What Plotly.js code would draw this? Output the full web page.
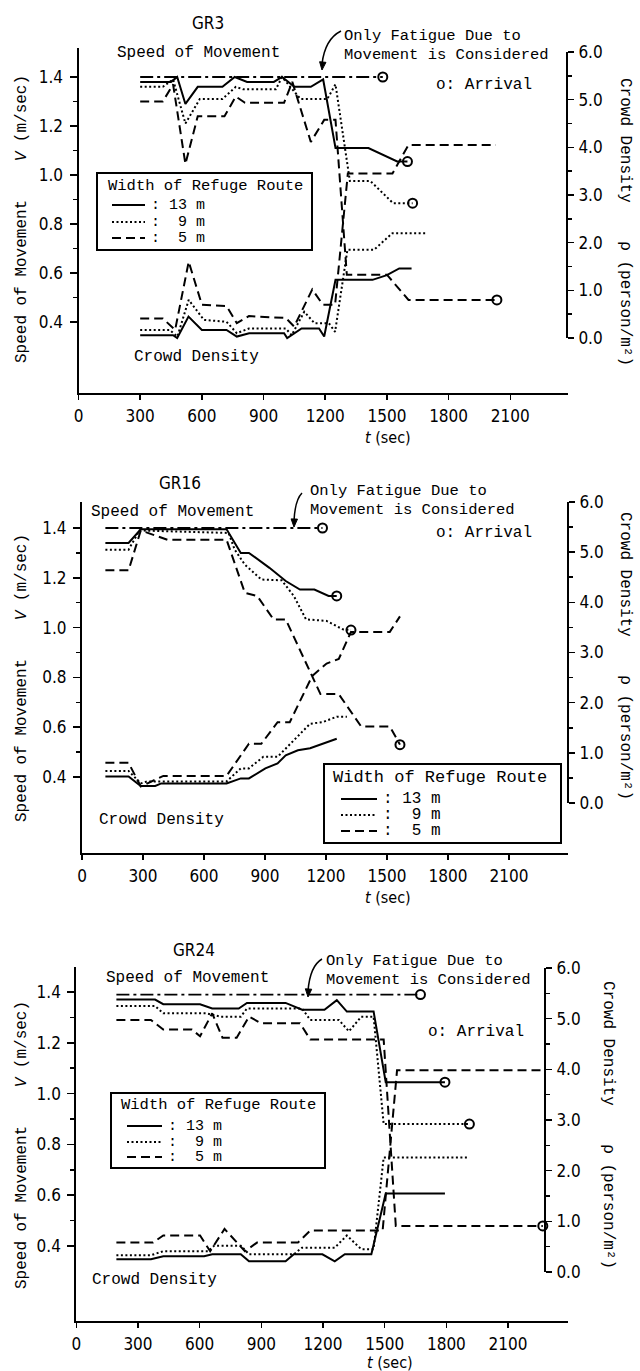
<!DOCTYPE html>
<html><head><meta charset="utf-8">
<script src="https://cdn.plot.ly/plotly-3.0.1.min.js"></script>
<style>html,body{margin:0;padding:0;background:#fff}</style>
</head><body><div id="chart" style="width:640px;height:1371px"></div>
<script>
// ---------------- DATA ----------------
const PANEL_TITLES = ['GR3', 'GR16', 'GR24'];
const X_TICKS = [0, 300, 600, 900, 1200, 1500, 1800, 2100];
const V_TICKS = [0.4, 0.6, 0.8, 1.0, 1.2, 1.4];
const V_TICK_TEXT = ['0.4', '0.6', '0.8', '1.0', '1.2', '1.4'];
const V_MINOR = [0.5, 0.7, 0.9, 1.1, 1.3];
const R_TICKS = [0, 1, 2, 3, 4, 5, 6];
const R_TICK_TEXT = ['0.0', '1.0', '2.0', '3.0', '4.0', '5.0', '6.0'];
const R_MINOR = [0.5, 1.5, 2.5, 3.5, 4.5, 5.5];
const LEGEND_TITLE = 'Width of Refuge Route';
const WIDTH_LABELS = [': 13 m', ':  9 m', ':  5 m'];

// GR3
const GR3_FATIGUE_T = [300, 1480];
const GR3_FATIGUE_V = [1.40, 1.40];
const GR3_V13_T = [300, 450, 480, 520, 580, 700, 760, 820, 950, 990, 1050, 1130, 1190, 1250, 1410, 1550, 1600];
const GR3_V13 = [1.38, 1.38, 1.40, 1.29, 1.36, 1.36, 1.40, 1.38, 1.38, 1.40, 1.36, 1.36, 1.39, 1.11, 1.11, 1.055, 1.055];
const GR3_V9_T = [300, 410, 460, 520, 590, 700, 765, 800, 960, 990, 1080, 1210, 1250, 1320, 1420, 1530, 1625];
const GR3_V9 = [1.36, 1.36, 1.39, 1.21, 1.31, 1.31, 1.36, 1.35, 1.35, 1.40, 1.31, 1.31, 1.37, 0.975, 0.975, 0.885, 0.885];
const GR3_V5_T = [300, 410, 460, 520, 580, 710, 765, 810, 1000, 1040, 1130, 1195, 1250, 1305, 1500, 1605, 2035];
const GR3_V5 = [1.30, 1.30, 1.37, 1.045, 1.24, 1.24, 1.32, 1.295, 1.295, 1.38, 1.135, 1.225, 1.225, 0.593, 0.593, 0.49, 0.49];
const GR3_R13_T = [300, 460, 480, 535, 600, 720, 770, 830, 1000, 1015, 1085, 1170, 1195, 1250, 1430, 1500, 1560, 1620];
const GR3_R13 = [0.06, 0.06, 0.0, 0.45, 0.17, 0.17, 0.03, 0.10, 0.10, 0.0, 0.20, 0.20, 0.03, 1.22, 1.22, 1.32, 1.46, 1.46];
const GR3_R9_T = [300, 443, 481, 536, 610, 720, 770, 829, 1008, 1037, 1098, 1148, 1218, 1248, 1308, 1437, 1527, 1687];
const GR3_R9 = [0.17, 0.17, 0.03, 0.80, 0.38, 0.34, 0.10, 0.20, 0.20, 0.06, 0.55, 0.31, 0.31, 0.13, 1.85, 1.85, 2.20, 2.20];
const GR3_R5_T = [300, 410, 470, 536, 600, 720, 770, 829, 1008, 1049, 1137, 1188, 1248, 1310, 1527, 1605, 2030];
const GR3_R5 = [0.41, 0.41, 0.17, 1.60, 0.70, 0.67, 0.31, 0.46, 0.42, 0.24, 1.02, 0.70, 0.70, 3.45, 3.45, 4.05, 4.05];

// GR16
const GR16_FATIGUE_T = [115, 1183];
const GR16_FATIGUE_V = [1.40, 1.40];
const GR16_V13_T = [115, 229, 289, 711, 781, 821, 922, 1002, 1072, 1143, 1213, 1253];
const GR16_V13 = [1.34, 1.34, 1.395, 1.395, 1.30, 1.30, 1.24, 1.187, 1.153, 1.153, 1.127, 1.127];
const GR16_V9_T = [115, 229, 283, 721, 751, 801, 882, 982, 1042, 1102, 1203, 1283, 1323];
const GR16_V9 = [1.313, 1.313, 1.39, 1.38, 1.313, 1.253, 1.193, 1.19, 1.127, 1.033, 1.027, 0.993, 0.99];
const GR16_V5_T = [115, 229, 289, 420, 711, 801, 862, 942, 1002, 1173, 1263, 1373, 1514, 1564];
const GR16_V5 = [1.23, 1.23, 1.39, 1.353, 1.353, 1.14, 1.127, 1.033, 1.033, 0.733, 0.733, 0.603, 0.603, 0.53];
const GR16_R13_T = [115, 229, 289, 360, 390, 711, 781, 821, 902, 962, 1002, 1062, 1122, 1183, 1253];
const GR16_R13 = [0.53, 0.53, 0.34, 0.34, 0.39, 0.39, 0.49, 0.49, 0.69, 0.79, 0.95, 1.05, 1.09, 1.18, 1.28];
const GR16_R9_T = [115, 229, 289, 319, 711, 781, 821, 892, 962, 1042, 1122, 1183, 1253, 1303];
const GR16_R9 = [0.64, 0.64, 0.39, 0.43, 0.43, 0.69, 0.69, 0.92, 0.92, 1.25, 1.58, 1.61, 1.72, 1.72];
const GR16_R5_T = [115, 229, 289, 400, 711, 821, 882, 962, 1022, 1132, 1203, 1263, 1323, 1514, 1564];
const GR16_R5 = [0.80, 0.80, 0.33, 0.54, 0.54, 1.18, 1.18, 1.61, 1.61, 2.53, 2.78, 2.87, 3.41, 3.41, 3.72];

// GR24
const GR24_FATIGUE_T = [195, 1674];
const GR24_FATIGUE_V = [1.39, 1.39];
const GR24_V13_T = [195, 383, 423, 602, 661, 790, 830, 1018, 1098, 1207, 1267, 1316, 1446, 1505, 1793];
const GR24_V13 = [1.37, 1.37, 1.352, 1.352, 1.335, 1.335, 1.357, 1.357, 1.33, 1.33, 1.368, 1.323, 1.323, 1.045, 1.045];
const GR24_V9_T = [195, 383, 423, 631, 701, 800, 830, 1098, 1138, 1277, 1326, 1386, 1446, 1495, 1912];
const GR24_V9 = [1.345, 1.345, 1.316, 1.316, 1.303, 1.303, 1.335, 1.335, 1.29, 1.29, 1.245, 1.303, 1.303, 0.88, 0.88];
const GR24_V5_T = [195, 363, 423, 562, 602, 661, 711, 780, 840, 899, 1088, 1138, 1495, 1554, 2269];
const GR24_V5 = [1.29, 1.29, 1.252, 1.252, 1.226, 1.316, 1.22, 1.22, 1.303, 1.277, 1.277, 1.213, 1.213, 0.479, 0.479];
const GR24_R13_T = [195, 363, 423, 622, 661, 800, 840, 1018, 1058, 1197, 1257, 1306, 1435, 1505, 1793];
const GR24_R13 = [0.25, 0.25, 0.31, 0.31, 0.35, 0.35, 0.21, 0.21, 0.35, 0.35, 0.21, 0.35, 0.35, 1.55, 1.55];
const GR24_R9_T = [195, 363, 423, 641, 671, 800, 840, 1058, 1098, 1257, 1316, 1386, 1446, 1495, 1912];
const GR24_R9 = [0.33, 0.33, 0.41, 0.41, 0.52, 0.52, 0.35, 0.35, 0.48, 0.48, 0.72, 0.45, 0.45, 2.26, 2.26];
const GR24_R5_T = [195, 373, 423, 602, 651, 721, 820, 879, 1078, 1138, 1490, 1560, 2279];
const GR24_R5 = [0.58, 0.58, 0.72, 0.72, 0.41, 0.85, 0.41, 0.58, 0.58, 0.82, 0.82, 3.98, 3.98];

// ---------------- TABLE built from the arrays ----------------
const SERIES = [
  {fat: [GR3_FATIGUE_T, GR3_FATIGUE_V], v: [[GR3_V13_T, GR3_V13], [GR3_V9_T, GR3_V9], [GR3_V5_T, GR3_V5]],
   r: [[GR3_R13_T, GR3_R13], [GR3_R9_T, GR3_R9], [GR3_R5_T, GR3_R5]]},
  {fat: [GR16_FATIGUE_T, GR16_FATIGUE_V], v: [[GR16_V13_T, GR16_V13], [GR16_V9_T, GR16_V9], [GR16_V5_T, GR16_V5]],
   r: [[GR16_R13_T, GR16_R13], [GR16_R9_T, GR16_R9], [GR16_R5_T, GR16_R5]]},
  {fat: [GR24_FATIGUE_T, GR24_FATIGUE_V], v: [[GR24_V13_T, GR24_V13], [GR24_V9_T, GR24_V9], [GR24_V5_T, GR24_V5]],
   r: [[GR24_R13_T, GR24_R13], [GR24_R9_T, GR24_R9], [GR24_R5_T, GR24_R5]]}
];

// ---------------- GEOMETRY (pixel layout of each panel) ----------------
const W = 640, H = 1371;
const PX = p => p / W, PY = p => 1 - p / H;
const GEO = [
  {xl: 78.5, xr: 568, t0: 78.5, ts: 0.2056, yb: 393, yt: 48, v14: 77, vs: 245, r0: 338, rs: 47.67, rx: 567,
   title: [208, 23], speed: [198, 53], fat: [342, 37], arrow: [[341, 31], [325, 39], [322, 70]], arrival: [484, 85],
   leg: {box: [97, 173, 312, 250], tx: 106, ty: 186, lx0: 112, lx1: 145, cx: 149, rows: [205, 222, 238], fs: 15, ts: 15.5},
   crowd: [196, 357], tsec: [388, 437], ltitle: [22, 219], rtitle: [625, 222]},
  {xl: 82, xr: 568, t0: 82, ts: 0.2033, yb: 853, yt: 502, v14: 528, vs: 249, r0: 803, rs: 50.17, rx: 568,
   title: [180, 483], speed: [172, 512], fat: [308, 492], arrow: [[302, 493], [295, 500], [294, 527]], arrival: [484, 533],
   leg: {box: [324, 764, 561, 843], tx: 331, ty: 777, lx0: 341, lx1: 377, cx: 381, rows: [799, 815, 831], fs: 16, ts: 17},
   crowd: [161, 820], tsec: [388, 897], ltitle: [22, 678], rtitle: [625, 656]},
  {xl: 76.3, xr: 568, t0: 76.3, ts: 0.2056, yb: 1321, yt: 967, v14: 992, vs: 254, r0: 1272, rs: 50.67, rx: 545,
   title: [194, 950], speed: [187, 978], fat: [324, 962], arrow: [[322, 959], [310, 966], [308, 997]], arrival: [476, 1032],
   leg: {box: [111, 1093, 325, 1168], tx: 119, ty: 1105, lx0: 127, lx1: 162, cx: 166, rows: [1126, 1142, 1157], fs: 15, ts: 15.5},
   crowd: [154, 1280], tsec: [390, 1362], ltitle: [22, 1145], rtitle: [608, 1125]}
];

const MONO = '"Liberation Mono", "DejaVu Sans Mono", monospace';
const NARROW = '"Liberation Sans Narrow", "DejaVu Sans Condensed", "Liberation Sans", sans-serif';
const BLACK = '#000';

const LINE_STYLES = [
  {color: BLACK, width: 2, dash: 'solid'},
  {color: BLACK, width: 2, dash: '2px,2.5px'},
  {color: BLACK, width: 2, dash: '9px,5px'}
];
const FAT_STYLE = {color: BLACK, width: 1.8, dash: '13px,4px,3px,4px'};

const traces = [];
const layout = {
  width: W, height: H, margin: {l: 0, r: 0, t: 0, b: 0},
  paper_bgcolor: '#fff', plot_bgcolor: 'rgba(0,0,0,0)',
  showlegend: false, annotations: [], shapes: [],
  font: {family: NARROW, color: BLACK, size: 16}
};

GEO.forEach((g, i) => {
  const xa = i === 0 ? 'x' : 'x' + (i + 1);
  const yv = i === 0 ? 'y' : 'y' + (2 * i + 1);
  const yr = 'y' + (2 * i + 2);
  const xKey = i === 0 ? 'xaxis' : 'xaxis' + (i + 1);
  const yvKey = i === 0 ? 'yaxis' : 'yaxis' + (2 * i + 1);
  const yrKey = 'yaxis' + (2 * i + 2);
  const S = SERIES[i];

  layout[xKey] = {
    domain: [PX(g.xl), PX(g.xr)], anchor: yv,
    range: [(g.xl - g.t0) / g.ts, (g.xr - g.t0) / g.ts],
    showgrid: false, zeroline: false, showline: true, linewidth: 2, linecolor: BLACK,
    ticks: 'outside', ticklen: 5, tickwidth: 1.5, tickcolor: BLACK,
    tickmode: 'array', tickvals: X_TICKS, ticktext: X_TICKS.map(String),
    tickfont: {family: NARROW, size: 17, color: BLACK}, ticklabelstandoff: 2
  };
  layout[yvKey] = {
    domain: [PY(g.yb), PY(g.yt)], anchor: xa,
    range: [1.4 - (g.yb - g.v14) / g.vs, 1.4 + (g.v14 - g.yt) / g.vs],
    showgrid: false, zeroline: false, showline: true, linewidth: 2, linecolor: BLACK,
    ticks: 'outside', ticklen: 7, tickwidth: 1.5, tickcolor: BLACK,
    tickmode: 'array', tickvals: V_TICKS, ticktext: V_TICK_TEXT,
    minor: {tickvals: V_MINOR, ticks: 'outside', ticklen: 4, tickwidth: 1.5, tickcolor: BLACK},
    tickfont: {family: NARROW, size: 17, color: BLACK}, ticklabelstandoff: 3
  };
  layout[yrKey] = {
    overlaying: yv, anchor: 'free', position: PX(g.rx), side: 'right',
    range: [-(g.yb - g.r0) / g.rs, (g.r0 - g.yt) / g.rs],
    showgrid: false, zeroline: false, showline: false,
    ticks: 'outside', ticklen: 6, tickwidth: 1.5, tickcolor: BLACK,
    tickmode: 'array', tickvals: R_TICKS, ticktext: R_TICK_TEXT,
    minor: {tickvals: R_MINOR, ticks: 'outside', ticklen: 4, tickwidth: 1.5, tickcolor: BLACK},
    tickfont: {family: NARROW, size: 17, color: BLACK}, ticklabelstandoff: 1
  };
  layout.shapes.push({type: 'line', xref: 'paper', yref: yr, x0: PX(g.rx), x1: PX(g.rx), y0: 0, y1: 6,
    line: {color: BLACK, width: 2}});

  traces.push({type: 'scatter', mode: 'lines', x: S.fat[0], y: S.fat[1], xaxis: xa, yaxis: yv,
    line: FAT_STYLE, hoverinfo: 'skip'});
  S.v.forEach((s, k) => {
    traces.push({type: 'scatter', mode: 'lines', x: s[0], y: s[1], xaxis: xa, yaxis: yv, line: LINE_STYLES[k]});
  });
  S.r.forEach((s, k) => {
    traces.push({type: 'scatter', mode: 'lines', x: s[0], y: s[1], xaxis: xa, yaxis: yr, line: LINE_STYLES[k]});
  });
  const ax = [S.fat[0][S.fat[0].length - 1]].concat(S.v.map(s => s[0][s[0].length - 1]));
  const ay = [S.fat[1][S.fat[1].length - 1]].concat(S.v.map(s => s[1][s[1].length - 1]));
  traces.push({type: 'scatter', mode: 'markers', x: ax, y: ay, xaxis: xa, yaxis: yv,
    marker: {symbol: 'circle-open', size: 9, color: BLACK, line: {width: 2, color: BLACK}},
    cliponaxis: false});

  const A = layout.annotations;
  const ann = (text, x, y, o) => A.push(Object.assign({text: text, xref: 'paper', yref: 'paper',
    x: PX(x), y: PY(y), showarrow: false, xanchor: 'center', yanchor: 'middle',
    font: {family: MONO, size: 16, color: BLACK}}, o || {}));

  const L = g.leg;
  layout.shapes.push({type: 'rect', xref: 'paper', yref: 'paper', x0: PX(L.box[0]), x1: PX(L.box[2]),
    y0: PY(L.box[3]), y1: PY(L.box[1]), line: {color: BLACK, width: 2}, fillcolor: '#fff', layer: 'above'});
  ann(LEGEND_TITLE, L.tx, L.ty, {xanchor: 'left', font: {family: MONO, size: L.ts, color: BLACK}});
  L.rows.forEach((ry, k) => {
    layout.shapes.push({type: 'line', xref: 'paper', yref: 'paper', x0: PX(L.lx0), x1: PX(L.lx1),
      y0: PY(ry), y1: PY(ry), line: LINE_STYLES[k], layer: 'above'});
    ann(WIDTH_LABELS[k], L.cx, ry, {xanchor: 'left', font: {family: MONO, size: L.fs, color: BLACK}});
  });

  const [p0, pc, p1] = g.arrow;
  layout.shapes.push({type: 'path', xref: 'paper', yref: 'paper',
    path: `M ${PX(p0[0])} ${PY(p0[1])} Q ${PX(pc[0])} ${PY(pc[1])} ${PX(p1[0])} ${PY(p1[1] - 6)}`,
    line: {color: BLACK, width: 1.5}});
  {
    const dx = p1[0] - pc[0], dy = p1[1] - pc[1], n = Math.hypot(dx, dy);
    const ux = dx / n, uy = dy / n, nx = -uy, ny = ux;
    const bx = p1[0] - 8 * ux, by = p1[1] - 8 * uy;
    layout.shapes.push({type: 'path', xref: 'paper', yref: 'paper',
      path: `M ${PX(p1[0])} ${PY(p1[1])} L ${PX(bx + 3.2 * nx)} ${PY(by + 3.2 * ny)} L ${PX(bx - 3.2 * nx)} ${PY(by - 3.2 * ny)} Z`,
      fillcolor: BLACK, line: {color: BLACK, width: 1}});
  }

  ann(PANEL_TITLES[i], g.title[0], g.title[1], {font: {family: NARROW, size: 17, color: BLACK}});
  ann('Speed of Movement', g.speed[0], g.speed[1]);
  ann('Only Fatigue Due to', g.fat[0], g.fat[1] - 1, {xanchor: 'left', font: {family: MONO, size: 15.5, color: BLACK}});
  ann('Movement is Considered', g.fat[0], g.fat[1] + 18, {xanchor: 'left', font: {family: MONO, size: 15.5, color: BLACK}});
  ann('o: Arrival', g.arrival[0], g.arrival[1]);
  ann('Crowd Density', g.crowd[0], g.crowd[1]);
  ann('<i>t</i> (sec)', g.tsec[0], g.tsec[1], {font: {family: NARROW, size: 16, color: BLACK}});
  ann('Speed of Movement\u00a0\u00a0\u00a0 <i>V</i> (m/sec)', g.ltitle[0], g.ltitle[1], {textangle: -90});
  ann('Crowd Density\u00a0\u00a0\u00a0 \u03c1 (person/m\u00b2)', g.rtitle[0], g.rtitle[1], {textangle: 90});
});

Plotly.newPlot('chart', traces, layout, {staticPlot: true, displayModeBar: false});
</script></body></html>
